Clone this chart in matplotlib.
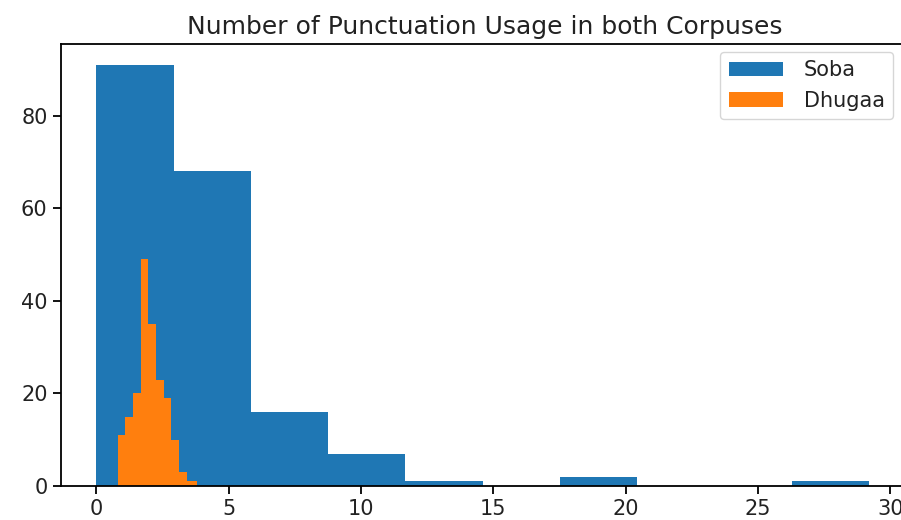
import numpy as np
import matplotlib
matplotlib.use('Agg')
import matplotlib.pyplot as plt

# punctuation counts per document, binned
soba_edges = [0, 2.92, 5.84, 8.76, 11.68, 14.6, 17.52, 20.44, 23.36, 26.28, 29.2]
soba_counts = [91, 68, 16, 7, 1, 0, 2, 0, 0, 1]

dhugaa_edges = [0.81, 1.1, 1.39, 1.69, 1.97, 2.26, 2.55, 2.84, 3.13, 3.42, 3.8]
dhugaa_counts = [11, 15, 20, 49, 35, 23, 19, 10, 3, 1]

fig = plt.figure(figsize=(9.01, 5.2), dpi=100)
ax = fig.add_axes([0.0674, 0.0654, 0.9415, 0.85])

# rebuild the histograms from the bin counts
ax.hist(soba_edges[:-1], bins=soba_edges, weights=soba_counts, color='#1f77b4', label='Soba')
ax.hist(dhugaa_edges[:-1], bins=dhugaa_edges, weights=dhugaa_counts, color='#ff7f0e', label='Dhugaa')

ax.set_xlim(-1.34, 30.7)
ax.set_title('Number of Punctuation Usage in both Corpuses', fontsize=18, pad=7,
             color='#222222')
ax.set_yticks([0, 20, 40, 60, 80])
ax.set_xticks([0, 5, 10, 15, 20, 25, 30])
ax.tick_params(labelsize=15, length=6, width=1.3, labelcolor='#222222')
for s in ax.spines.values():
    s.set_linewidth(1.3)

leg = ax.legend(loc='upper right', bbox_to_anchor=(0.981, 0.982), borderaxespad=0,
                fontsize=15, handlelength=2.6, handletextpad=1.0)
for t in leg.get_texts():
    t.set_color('#222222')

plt.savefig('out.png', dpi=100)
